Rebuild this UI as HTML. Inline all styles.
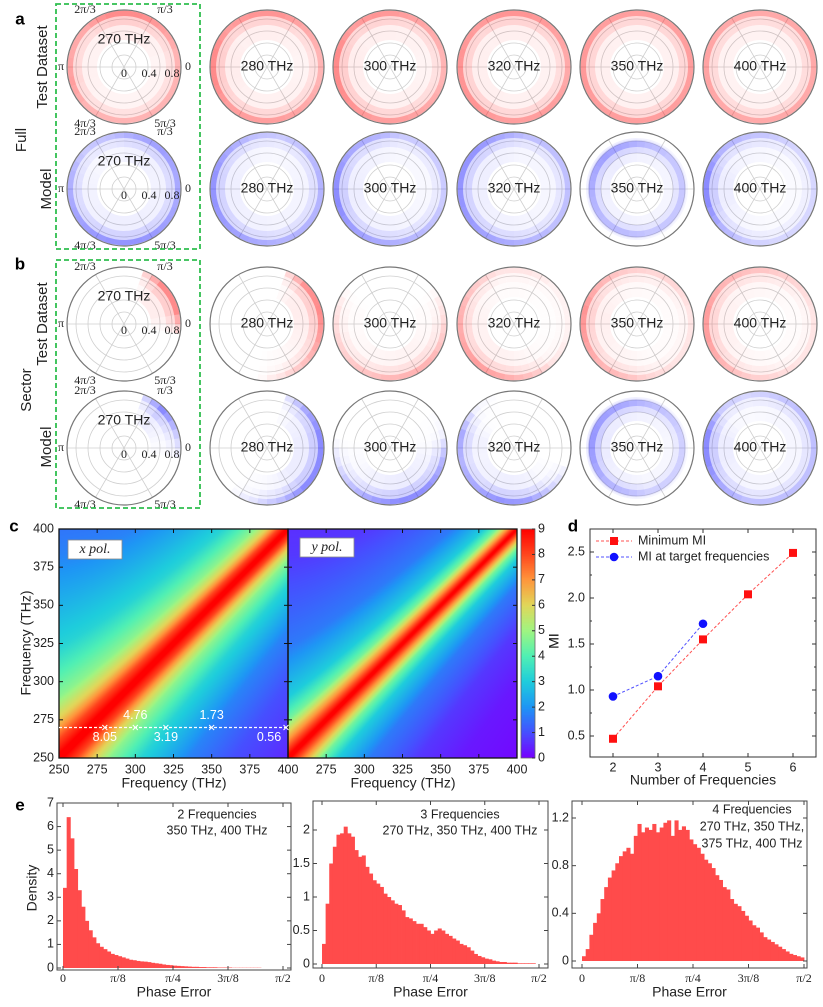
<!DOCTYPE html>
<html><head><meta charset="utf-8">
<style>
html,body{margin:0;padding:0;background:#fff;}
#wrap{position:relative;width:823px;height:1007px;overflow:hidden;font-family:"Liberation Sans",sans-serif;}
svg{position:absolute;left:0;top:0;}
canvas{position:absolute;}
</style></head>
<body>
<div id="wrap">
<canvas id="hx" width="229" height="229" style="left:59px;top:529px"></canvas>
<canvas id="hy" width="229" height="229" style="left:288px;top:529px"></canvas>
<canvas id="cb" width="14" height="229" style="left:521px;top:529px"></canvas>
<svg id="fig" width="823" height="1007" viewBox="0 0 823 1007"></svg>
</div>
<script>
// ---------- DATA ----------
const polarFreqs = ["270 THz","280 THz","300 THz","320 THz","350 THz","400 THz"];
// angular density per 30° sector (0° = right, counter-clockwise)
const testFull = [
 [0.6,0.8,1,1,0.7,0.7,0.8,0.6,0.6,0.6,0.6,0.6],
 [0.6,0.7,0.9,0.9,0.8,1,1,0.8,0.8,0.8,0.7,0.6],
 [0.6,0.7,0.8,0.9,0.8,1,1,0.9,0.8,0.8,0.7,0.6],
 [0.7,0.8,0.9,0.9,0.8,0.9,0.9,0.9,0.8,0.8,0.8,0.7],
 [0.8,0.8,0.8,0.8,0.8,0.85,0.85,0.8,0.8,0.8,0.8,0.8],
 [0.7,0.7,0.7,0.7,0.7,0.75,0.75,0.7,0.7,0.7,0.7,0.7]];
const modelFull = [
 [0.7,0.8,0.7,0.5,0.4,0.6,0.7,0.8,0.9,0.9,0.8,0.7],
 [0.6,0.5,0.4,0.5,0.7,0.9,0.9,0.8,0.7,0.6,0.6,0.6],
 [0.4,0.4,0.4,0.6,0.7,0.9,1,0.8,0.7,0.6,0.5,0.4],
 [0.5,0.5,0.5,0.7,0.9,0.9,0.9,0.8,0.7,0.6,0.5,0.5],
 [0.5,0.5,0.6,0.8,0.9,0.8,0.7,0.6,0.6,0.5,0.5,0.5],
 [0.3,0.3,0.4,0.5,0.6,1,1,0.6,0.4,0.3,0.3,0.3]];
const testSector = [
 [1,1,0,0,0,0,0,0,0,0,0,0],
 [1,0.9,0,0,0,0,0,0,0,0.2,0.5,0.8],
 [0.2,0,0,0,0,0.2,0.3,0.4,0.5,0.6,0.6,0.4],
 [0.1,0.1,0.2,0.2,0.4,0.6,0.7,0.8,0.7,0.5,0.2,0.1],
 [0.2,0.3,0.3,0.4,0.6,0.9,0.8,0.6,0.5,0.3,0.2,0.2],
 [0.2,0.3,0.4,0.5,0.6,0.8,0.8,0.6,0.4,0.3,0.2,0.2]];
const modelSector = [
 [0.4,1,0,0,0,0,0,0,0,0,0,0],
 [1,0.7,0,0,0,0,0,0,0.2,0.5,1,1],
 [0.1,0,0,0,0,0,0.2,0.5,0.8,1,0.9,0.6],
 [0,0,0,0,0.1,0.7,0.6,0.7,0.9,0.8,0.3,0],
 [0.4,0.5,0.6,0.8,0.9,1,0.9,0.7,0.6,0.4,0.4,0.4],
 [0.5,0.5,0.4,0.3,0.4,1,1,0.7,0.5,0.5,0.5,0.5]];

// heatmap MI decay vs effective frequency separation
const decayDelta = [0,12,25,40,73,133,200,300];
const xPolMI = [9.3,8.05,6.2,4.76,3.19,1.73,1.0,0.5];
const yPolMI = [9.3,7.0,4.5,3.0,1.6,0.7,0.3,0.1];
const heatTicks = [250,275,300,325,350,375,400];
const cbTicks = [0,1,2,3,4,5,6,7,8,9];
const markerFreqs = [280,300,320,350,400];
const markerVals = ["8.05","4.76","3.19","1.73","0.56"];

// panel d
const dMinN = [2,3,4,5,6];
const dMinMI = [0.47,1.04,1.55,2.04,2.49];
const dTargetN = [2,3,4];
const dTargetMI = [0.93,1.15,1.72];
const dYTicks = [0.5,1.0,1.5,2.0,2.5];
const dXTicks = [2,3,4,5,6];

// panel e histograms (60 bins over 0..π/2)
const hist2 = [3.4,6.4,5.5,4.2,3.3,2.6,2.0,1.6,1.3,1.05,0.9,0.8,0.7,0.6,0.55,0.5,0.45,0.4,0.35,0.33,0.3,0.28,0.27,0.25,0.22,0.2,0.18,0.15,0.13,0.12,0.1,0.09,0.08,0.07,0.06,0.05,0.05,0.04,0.04,0.03,0.03,0.03,0.02,0.02,0.02,0.02,0.01,0.01,0.01,0.01,0.01,0.01,0.01,0.01,0,0,0,0,0,0];
const hist3 = [0.3,0.9,1.5,1.75,1.93,1.95,2.05,1.95,1.9,1.7,1.6,1.62,1.45,1.35,1.25,1.2,1.15,1.05,1.0,0.95,0.9,0.88,0.8,0.7,0.68,0.64,0.6,0.6,0.55,0.5,0.45,0.5,0.53,0.5,0.45,0.42,0.38,0.35,0.3,0.28,0.25,0.2,0.15,0.12,0.1,0.08,0.07,0.05,0.04,0.03,0.03,0.02,0.02,0.02,0.01,0.01,0.01,0.01,0.01,0];
const hist4 = [0.04,0.1,0.22,0.32,0.4,0.52,0.62,0.7,0.76,0.82,0.88,0.92,0.95,0.9,1.05,1.15,1.08,1.12,1.1,1.15,1.08,1.12,1.16,1.18,1.05,1.18,1.1,1.13,1.1,1.02,0.98,0.95,0.9,0.85,0.82,0.78,0.72,0.68,0.62,0.6,0.52,0.48,0.46,0.42,0.38,0.34,0.3,0.28,0.24,0.2,0.18,0.16,0.14,0.12,0.1,0.08,0.06,0.05,0.04,0.03];
const phaseTicks = ["0","π/8","π/4","3π/8","π/2"];

// ---------- HELPERS ----------
const NS="http://www.w3.org/2000/svg";
const svg=document.getElementById('fig');
function el(tag,attrs,parent,txt){const e=document.createElementNS(NS,tag);for(const k in attrs)e.setAttribute(k,attrs[k]);if(txt!==undefined)e.textContent=txt;(parent||svg).appendChild(e);return e;}
function grp(name){const g=el('g',{});return g;}
function txt(parent,x,y,s,name,o){o=o||{};const t=el('text',{x:x,y:y,'font-size':o.fs||12,'text-anchor':o.anchor||'middle','font-family':o.ff||'"Liberation Sans",sans-serif',fill:o.fill||'#222','font-weight':o.fw||'normal','font-style':o.fst||'normal','dominant-baseline':'middle'},parent,s);if(o.rot)t.setAttribute('transform','rotate(-90 '+x+' '+y+')');return t;}

// ---------- POLAR PLOTS ----------
const R=57, PX=60; // px per unit radius
const colX=[124,267,390,514,637,760];
function annulus(cx,cy,r0,r1,a0,a1){const p=(r,a)=>[cx+r*Math.cos(a),cy-r*Math.sin(a)];const A=p(r1,a0),B=p(r1,a1),C=p(r0,a1),D=p(r0,a0);return `M${A[0]},${A[1]} A${r1},${r1} 0 0 0 ${B[0]},${B[1]} L${C[0]},${C[1]} A${r0},${r0} 0 0 1 ${D[0]},${D[1]} Z`;}
function dens(arr,deg){const s=(deg/30)-0.5;const i0=Math.floor(s),f=s-i0;const a=arr[(i0+12)%12],b=arr[(i0+13)%12];return a*(1-f)+b*f;}
function polar(cx,cy,d,color,label,first,name,inner){
  const g=grp(name);
  [0.2,0.4,0.6,0.8].forEach(v=>el('circle',{cx:cx,cy:cy,r:v*PX,fill:'none',stroke:'#cfcfcf','stroke-width':0.8},g));
  [0,60,120].forEach(a=>{const r=a*Math.PI/180;el('line',{x1:cx-R*Math.cos(r),y1:cy+R*Math.sin(r),x2:cx+R*Math.cos(r),y2:cy-R*Math.sin(r),stroke:'#cfcfcf','stroke-width':0.8},g);});
  const layers=inner?[[0.45,0.85,0.09],[0.6,0.82,0.14],[0.7,0.8,0.3]]:[[0.45,0.94,0.08],[0.7,0.94,0.14],[0.85,0.94,0.38]];
  const N=36, step=360/N;
  for(let k=0;k<N;k++){const v=dens(d,k*step+step/2);if(v<=0.01)continue;
    const a0=k*step*Math.PI/180,a1=(k+1)*step*Math.PI/180;
    layers.forEach(L=>{const p=el('path',{d:annulus(cx,cy,L[0]*PX,L[1]*PX,a0,a1),fill:color,'fill-opacity':(v*L[2]).toFixed(3)},g);
      });}
  el('circle',{cx:cx,cy:cy,r:R,fill:'none',stroke:'#777','stroke-width':1.2},g);
  if(first){
    txt(g,cx,cy-27,label,'frequency-label',{fs:14});
    const sf='"Liberation Serif",serif';
    txt(g,cx-39,cy-57,'2π/3','angle-label',{fs:12,ff:sf});
    txt(g,cx+41,cy-57,'π/3','angle-label',{fs:12,ff:sf});
    txt(g,cx-63,cy,'π','angle-label',{fs:12,ff:sf});
    txt(g,cx+64,cy,'0','angle-label',{fs:12,ff:sf});
    txt(g,cx-39,cy+57,'4π/3','angle-label',{fs:12,ff:sf});
    txt(g,cx+41,cy+57,'5π/3','angle-label',{fs:12,ff:sf});
    txt(g,cx,cy+7,'0','radius-label',{fs:12,ff:sf});
    txt(g,cx+25,cy+7,'0.4','radius-label',{fs:12,ff:sf});
    txt(g,cx+48,cy+7,'0.8','radius-label',{fs:12,ff:sf});
  } else txt(g,cx,cy,label,'frequency-label',{fs:14});
}
const rows=[[67,testFull,'#ff1a1a','full-test'],[189,modelFull,'#1a1aff','full-model'],[324,testSector,'#ff1a1a','sector-test'],[448,modelSector,'#1a1aff','sector-model']];
rows.forEach(r=>{for(let i=0;i<6;i++){const inner=(r[3]==='full-model'||r[3]==='sector-model')&&i===4;polar(colX[i],r[0],r[1][i],r[2],polarFreqs[i],i===0,'polar-'+r[3]+'-'+i,inner);}});
(function(){const g=grp('panel-ab-labels');
 txt(g,20,20,'a','panel-label-a',{fs:17,fw:'bold',fill:'#000'});
 txt(g,20,265,'b','panel-label-b',{fs:17,fw:'bold',fill:'#000'});
 txt(g,22,140,'Full','row-label-full',{fs:15,rot:1});
 txt(g,27,390,'Sector','row-label-sector',{fs:15,rot:1});
 txt(g,43,67,'Test Dataset','row-label-test',{fs:15,rot:1});
 txt(g,47,189,'Model','row-label-model',{fs:15,rot:1});
 txt(g,43,324,'Test Dataset','row-label-test',{fs:15,rot:1});
 txt(g,47,447,'Model','row-label-model',{fs:15,rot:1});
 const b1=el('rect',{x:56,y:4,width:144,height:245,fill:'none',stroke:'#2fbf4f','stroke-width':1.8,'stroke-dasharray':'5,3'},g);
 
 const b2=el('rect',{x:56,y:260,width:144,height:248,fill:'none',stroke:'#2fbf4f','stroke-width':1.8,'stroke-dasharray':'5,3'},g);
 
})();

// ---------- PANEL C ----------
const cmapStops=[[0,[120,0,255]],[1,[70,80,255]],[2,[30,150,245]],[3,[30,205,220]],[4,[80,240,180]],[5,[160,245,130]],[6,[225,215,90]],[7,[255,150,60]],[8,[255,70,30]],[9,[255,0,0]]];
function cmap(v){v=Math.max(0,Math.min(9,v));const i=Math.min(8,Math.floor(v)),f=v-i;const a=cmapStops[i][1],b=cmapStops[i+1][1];return [0,1,2].map(k=>Math.round(a[k]+(b[k]-a[k])*f));}
function interp(xs,ys,x){if(x>=xs[xs.length-1])return ys[ys.length-1];for(let i=1;i<xs.length;i++)if(x<=xs[i]){const f=(x-xs[i-1])/(xs[i]-xs[i-1]);return ys[i-1]+(ys[i]-ys[i-1])*f;}return ys[0];}
const HW=229,HH=229,F0=250,F1=400;
const fx=(f,x0)=>x0+(f-F0)/(F1-F0)*HW, fy=f=>758-(f-F0)/(F1-F0)*HH;
function miAt(arr,f1,f2){const s=1+(f1-250)/150;return interp(decayDelta,arr,Math.abs(f1-f2)*s);}
function heat(id,arr){const c=document.getElementById(id).getContext('2d');const im=c.createImageData(HW,HH);
 for(let py=0;py<HH;py++)for(let px=0;px<HW;px++){const f1=F0+(px+0.5)/HW*(F1-F0),f2=F1-(py+0.5)/HH*(F1-F0);const col=cmap(miAt(arr,f1,f2));const o=(py*HW+px)*4;im.data[o]=col[0];im.data[o+1]=col[1];im.data[o+2]=col[2];im.data[o+3]=255;}
 c.putImageData(im,0,0);}
heat('hx',xPolMI);heat('hy',yPolMI);
(function(){const c=document.getElementById('cb').getContext('2d');for(let py=0;py<229;py++){const col=cmap(9-(py+0.5)/229*9);c.fillStyle=`rgb(${col})`;c.fillRect(0,py,14,1);}})();
(function(){const g=grp('panel-c');
 txt(g,14,527,'c','panel-label-c',{fs:17,fw:'bold',fill:'#000'});
 [59,288].forEach((x0,pi)=>{
  el('rect',{x:x0,y:529,width:229,height:229,fill:'none',stroke:'#111','stroke-width':1.3},g);
  heatTicks.forEach(t=>{const x=fx(t,x0);el('line',{x1:x,y1:758,x2:x,y2:754,stroke:'#111'},g);el('line',{x1:x,y1:529,x2:x,y2:533,stroke:'#111'},g);
   if(!(pi===1&&t===250))txt(g,x,770,String(t),'x-tick-label',{fs:12.5});});
  heatTicks.forEach(t=>{const y=fy(t);el('line',{x1:x0,y1:y,x2:x0+4,y2:y,stroke:'#111'},g);el('line',{x1:x0+229,y1:y,x2:x0+225,y2:y,stroke:'#111'},g);});
  txt(g,x0+115,784,'Frequency (THz)','x-axis-title',{fs:14});
 });
 heatTicks.forEach(t=>txt(g,54,fy(t),String(t),'y-tick-label',{fs:12.5,anchor:'end'}));
 txt(g,27,643,'Frequency (THz)','y-axis-title',{fs:14,rot:1});
 el('rect',{x:521,y:529,width:14,height:229,fill:'none',stroke:'#666','stroke-width':0.8},g);
 cbTicks.forEach(t=>{const y=758-t/9*229;el('line',{x1:532,y1:y,x2:535,y2:y,stroke:'#333'},g);txt(g,538,y,String(t),'colorbar-tick-label',{fs:12.5,anchor:'start'});});
 txt(g,555,641,'MI','colorbar-title',{fs:14,rot:1});
 const bx=el('rect',{x:68,y:540,width:54,height:19,fill:'#fff',stroke:'#888','stroke-width':0.8},g);
 txt(g,95,550,'x pol.','x-pol-label',{fs:14,ff:'"Liberation Serif",serif',fst:'italic'});
 const by=el('rect',{x:300,y:538,width:54,height:19,fill:'#fff',stroke:'#888','stroke-width':0.8},g);
 txt(g,327,548,'y pol.','y-pol-label',{fs:14,ff:'"Liberation Serif",serif',fst:'italic'});
 const ly=fy(270);
 const dl=el('line',{x1:59,y1:ly,x2:288,y2:ly,stroke:'#fff','stroke-width':1.3,'stroke-dasharray':'3,2'},g);
 markerFreqs.forEach((f,i)=>{const x=Math.min(fx(f,59),286);el('path',{d:`M${x-2.5},${ly-2.5}L${x+2.5},${ly+2.5}M${x-2.5},${ly+2.5}L${x+2.5},${ly-2.5}`,stroke:'#fff','stroke-width':1},g);
  const above=(i%2===1);txt(g,i===4?x-17:x,above?ly-12:ly+10,markerVals[i],'mi-value-label',{fs:12.5,fill:'#fff'});});
})();

// ---------- PANEL D ----------
(function(){const g=grp('panel-d');
 const X0=590,X1=816,Y0=529,Y1=757;
 const dx=n=>613+(n-2)*45, dy=v=>736-(v-0.5)*92;
 txt(g,573,527,'d','panel-label-d',{fs:17,fw:'bold',fill:'#000'});
 el('rect',{x:X0,y:Y0,width:X1-X0,height:Y1-Y0,fill:'none',stroke:'#333','stroke-width':1},g);
 dYTicks.forEach(t=>{const y=dy(t);el('line',{x1:X0,y1:y,x2:X0+4,y2:y,stroke:'#333'},g);el('line',{x1:X1,y1:y,x2:X1-4,y2:y,stroke:'#333'},g);txt(g,585,y,t.toFixed(1),'y-tick-label',{fs:12.5,anchor:'end'});});
 [0.75,1.25,1.75,2.25].forEach(t=>{const y=dy(t);el('line',{x1:X0,y1:y,x2:X0+2,y2:y,stroke:'#333'},g);el('line',{x1:X1,y1:y,x2:X1-2,y2:y,stroke:'#333'},g);});
 dXTicks.forEach(t=>{const x=dx(t);el('line',{x1:x,y1:Y1,x2:x,y2:Y1-4,stroke:'#333'},g);el('line',{x1:x,y1:Y0,x2:x,y2:Y0+4,stroke:'#333'},g);txt(g,x,768,String(t),'x-tick-label',{fs:12.5});});
 txt(g,703,781,'Number of Frequencies','x-axis-title',{fs:14});
 txt(g,555,641,'MI','y-axis-title',{fs:14,rot:1});
 const l1=el('polyline',{points:dMinN.map((n,i)=>dx(n)+','+dy(dMinMI[i])).join(' '),fill:'none',stroke:'#ff5050','stroke-width':1,'stroke-dasharray':'3,2'},g);
 const l2=el('polyline',{points:dTargetN.map((n,i)=>dx(n)+','+dy(dTargetMI[i])).join(' '),fill:'none',stroke:'#5050ff','stroke-width':1,'stroke-dasharray':'3,2'},g);
 dMinN.forEach((n,i)=>{const r=el('rect',{x:dx(n)-4,y:dy(dMinMI[i])-4,width:8,height:8,fill:'#ff1010'},g);});
 dTargetN.forEach((n,i)=>{const c=el('circle',{cx:dx(n),cy:dy(dTargetMI[i]),r:4.3,fill:'#1010ff'},g);});
 el('line',{x1:596,y1:541,x2:632,y2:541,stroke:'#ff5050','stroke-dasharray':'3,2'},g);
 el('rect',{x:610,y:537,width:8,height:8,fill:'#ff1010'},g);
 txt(g,638,541,'Minimum MI','legend-entry-minimum-mi',{fs:12.5,anchor:'start'});
 el('line',{x1:596,y1:557,x2:632,y2:557,stroke:'#5050ff','stroke-dasharray':'3,2'},g);
 el('circle',{cx:614,cy:557,r:4.3,fill:'#1010ff'},g);
 txt(g,638,557,'MI at target frequencies','legend-entry-target-mi',{fs:12.5,anchor:'start'});
})();

// ---------- PANEL E ----------
function histPanel(name,data,X0,X1,Y0,Y1,xz,xe,yz,ymaxV,yMaxPix,yt,fmt,lines){
 const g=grp(name);
 const sy=v=>yz-v/ymaxV*(yz-yMaxPix);
 const bw=(xe-xz)/data.length;
 data.forEach((v,i)=>{if(v<=0)return;const r=el('rect',{x:xz+i*bw,y:sy(v),width:bw+0.4,height:yz-sy(v),fill:'#ff4b4b'},g);});
 el('rect',{x:X0,y:Y0,width:X1-X0,height:Y1-Y0,fill:'none',stroke:'#444','stroke-width':1},g);
 yt.forEach(t=>{const y=sy(t);el('line',{x1:X0,y1:y,x2:X0+4,y2:y,stroke:'#444'},g);el('line',{x1:X1,y1:y,x2:X1-4,y2:y,stroke:'#444'},g);txt(g,X0-3,y,fmt(t),'y-tick-label',{fs:12.5,anchor:'end'});});
 phaseTicks.forEach((t,i)=>{const x=xz+i*(xe-xz)/4;el('line',{x1:x,y1:Y1,x2:x,y2:Y1-4,stroke:'#444'},g);el('line',{x1:x,y1:Y0,x2:x,y2:Y0+4,stroke:'#444'},g);txt(g,x,979,t,'x-tick-label',{fs:12,ff:'"Liberation Serif",serif'});});
 txt(g,(X0+X1)/2,993,'Phase Error','x-axis-title',{fs:14});
 lines.forEach((l,i)=>txt(g,l[0],l[1],l[2],'annotation',{fs:12.5}));
}
txt(null,20,806,'e','panel-label-e',{fs:17,fw:'bold',fill:'#000'});
txt(null,33,888,'Density','y-axis-title',{fs:14,rot:1});
histPanel('histogram-2-frequencies',hist2,57,291,803,970,63,283,968,7,803,[0,1,2,3,4,5,6,7],t=>String(t),[[217,815,'2 Frequencies'],[217,831,'350 THz, 400 THz']]);
histPanel('histogram-3-frequencies',hist3,313,548,801,968,322,539,964,2,830,[0,0.5,1,1.5,2],t=>String(t),[[460,815,'3 Frequencies'],[460,831,'270 THz, 350 THz, 400 THz']]);
histPanel('histogram-4-frequencies',hist4,572,807,801,968,582,804,961,1.2,818,[0,0.4,0.8,1.2],t=>String(t),[[752,810,'4 Frequencies'],[752,827,'270 THz, 350 THz,'],[752,844,'375 THz, 400 THz']]);
</script>
</body></html>
